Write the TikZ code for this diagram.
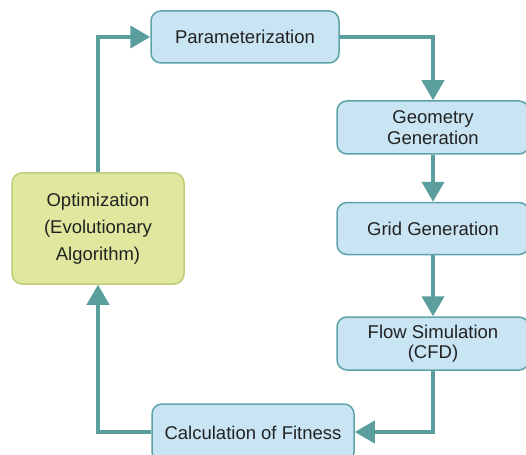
\documentclass[tikz,border=0pt]{standalone}
\usepackage{fontspec}
\setmainfont{Liberation Sans}
\usetikzlibrary{arrows.meta}
\definecolor{boxfill}{HTML}{C9E5F3}
\definecolor{boxline}{HTML}{5EA3A8}
\definecolor{arr}{HTML}{5A9E9E}
\definecolor{optfill}{HTML}{DFE89E}
\definecolor{optline}{HTML}{C2CC78}
\definecolor{txt}{HTML}{222222}
\begin{document}
\begin{tikzpicture}[x=1pt,y=1pt,
  box/.style={draw=boxline, line width=1.5pt, fill=boxfill, rounded corners=10pt, inner sep=0pt, align=center, text=txt, font=\fontsize{18.5}{20.5}\selectfont},
  optbox/.style={box, draw=optline, fill=optfill, font=\fontsize{18.5}{27}\selectfont},
  link/.style={draw=arr, line width=4pt, -{Triangle[width=22pt,length=20pt]}}]
\useasboundingbox (0,0) rectangle (526,-454);
\clip (0,0) rectangle (526,-454);
\fill[white] (0,0) rectangle (526,-454);
\node[box, minimum width=188pt, minimum height=52pt] (par) at (245,-37) {Parameterization};
\node[box, minimum width=192pt, minimum height=53pt] (geo) at (433,-127.5) {Geometry\\Generation};
\node[box, minimum width=192pt, minimum height=52pt] (grid) at (433,-228.5) {Grid Generation};
\node[box, minimum width=192pt, minimum height=53pt] (flow) at (433,-343.5) {Flow Simulation\\(CFD)};
\node[box, minimum width=202pt, minimum height=58pt] (fit) at (253,-433) {Calculation of Fitness};
\node[optbox, minimum width=172pt, minimum height=111pt] (opt) at (98,-228.5) {Optimization\\(Evolutionary\\Algorithm)};
\coordinate (c1) at (98,-37);
\coordinate (c2) at (433,-37);
\coordinate (c3) at (433,-432);
\coordinate (c4) at (98,-432);
\draw[link] (opt.north) -- (c1) -- (par.west);
\draw[link] (par.east) -- (c2) -- (geo.north);
\draw[link] (geo.south) -- (grid.north);
\draw[link] (grid.south) -- (flow.north);
\draw[link] (flow.south) -- (c3) -- (fit.east |- c3);
\draw[link] (fit.west |- c4) -- (c4) -- (opt.south);
\end{tikzpicture}
\end{document}
